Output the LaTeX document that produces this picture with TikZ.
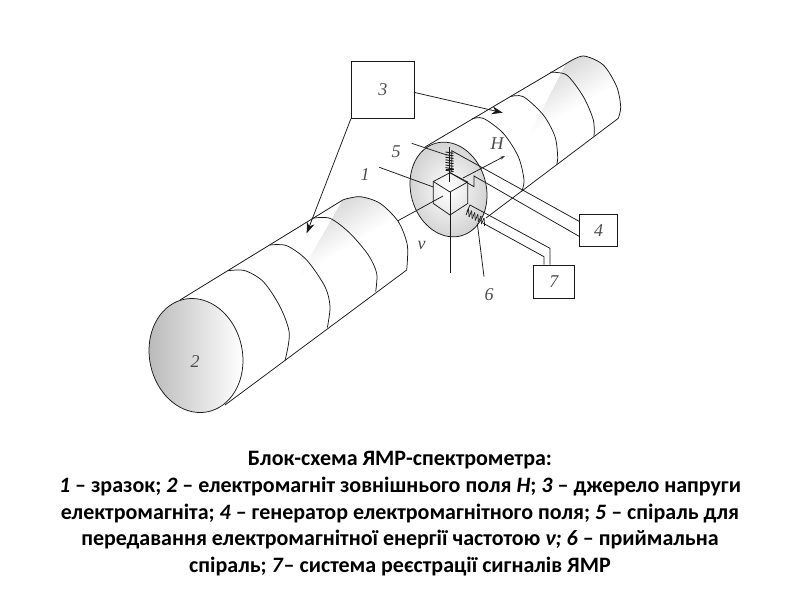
\documentclass[tikz,border=0pt]{standalone}
\usepackage{fontspec}
\setmainfont{Liberation Serif}
\newfontfamily\capfont{Carlito}
\usetikzlibrary{arrows.meta}
\tikzset{
  ln/.style={line width=0.75pt,black!90},
  boxn/.style={draw=black!90,line width=0.75pt,inner sep=0pt,font=\itshape\fontsize{18}{18}\selectfont,text=black!70},
  lbl/.style={inner sep=0pt,font=\itshape\fontsize{18}{18}\selectfont,text=black!70},
  bigarrow/.style={ln,-{Stealth[length=11pt,width=8pt]}},
  smallarrow/.style={ln,-{Stealth[length=5pt,width=3pt]}},
  zf/.style={shift={(130,180)},xscale=1/3,yscale=1/3},
  zb/.style={shift={(340,40)},xscale=1/3,yscale=1/3}
}
\begin{document}
\begin{tikzpicture}[x=1pt,y=-1pt]
\useasboundingbox (0,0) rectangle (800,600);
% back cylinder shading
\begin{scope}
\clip (425,147) -- (566.7,63.3) plot[smooth] coordinates {(566.7,63.3)(583.3,56)(603.3,65)(616.7,86.7)(620.7,106.7)(618.3,118.3)} -- (486,218) -- cycle;
\foreach \w in {44,42,...,2}{
  \pgfmathsetmacro\k{15*(1-\w/44)}
  \pgfmathsetmacro\dx{.509*\w}
  \pgfmathsetmacro\dy{.861*\w}
  \pgfmathsetmacro\ax{420+\dx}
  \pgfmathsetmacro\ay{150+\dy}
  \pgfmathsetmacro\bx{680+\dx}
  \pgfmathsetmacro\by{-3.7+\dy}
  \fill[black!\k] (420,150) -- (680,-3.7) -- (\bx,\by) -- (\ax,\ay) -- cycle;
}
\end{scope}
% front cylinder shading
\begin{scope}
\clip (180,300) -- (343.3,199.7) plot[smooth] coordinates {(343.3,199.7)(360,196.7)(380,203.3)(398.3,221.7)(407.3,245)(406.7,270)} -- (225,405) -- cycle;
\foreach \w in {44,42,...,2}{
  \pgfmathsetmacro\k{15*(1-\w/44)}
  \pgfmathsetmacro\dx{.523*\w}
  \pgfmathsetmacro\dy{.852*\w}
  \pgfmathsetmacro\ax{170+\dx}
  \pgfmathsetmacro\ay{306+\dy}
  \pgfmathsetmacro\bx{480+\dx}
  \pgfmathsetmacro\by{115.7+\dy}
  \fill[black!\k] (170,306) -- (480,115.7) -- (\bx,\by) -- (\ax,\ay) -- cycle;
}
\end{scope}
% back cylinder outlines
\draw[ln] (425,147) -- (566.7,63.3);
\draw[ln] (618.3,118.3) -- (486,218);
\draw[ln] plot[smooth] coordinates {(566.7,63.3)(583.3,56)(603.3,65)(616.7,86.7)(620.7,106.7)(618.3,118.3)};
\begin{scope}[zb]
\draw[ln] plot[smooth] coordinates {(395,237)(430,235)(490,280)(535,350)(552,420)(545,455)};
\draw[ln] plot[smooth] coordinates {(510,170)(550,170)(610,225)(645,290)(653,350)(650,375)};
\draw[ln] plot[smooth] coordinates {(630,97)(680,105)(730,170)(760,240)(762,290)};
\end{scope}
% front cylinder outlines
\draw[ln] (180,300) -- (343.3,199.7);
\draw[ln] (406.7,270) -- (225,405);
\draw[ln] plot[smooth] coordinates {(343.3,199.7)(360,196.7)(380,203.3)(398.3,221.7)(407.3,245)(406.7,270)};
\begin{scope}[zf]
\draw[ln] plot[smooth] coordinates {(295,272)(345,272)(400,305)(450,380)(478,460)(465,542)};
\draw[ln] plot[smooth] coordinates {(420,195)(470,197)(530,240)(585,320)(600,380)(592,443)};
\draw[ln] plot[smooth] coordinates {(545,115)(600,115)(660,160)(715,225)(740,280)(737,335)};
\end{scope}
% front face
\shade[left color=black!27,right color=white,draw=black!90,line width=0.75pt]
  plot[domain=0:360,samples=73,variable=\t] ({196+47*cos(\t)},{355.5+5*cos(\t)+56.8*sin(\t)}) -- cycle;
% central disc
\shade[inner color=white,outer color=black!17,draw=black!90,line width=0.75pt]
  plot[domain=0:360,samples=73,variable=\t] ({448.5+38.5*cos(\t)},{189.5+5.8*cos(\t)+47*sin(\t)}) -- cycle;
% boxes
\node[boxn,minimum width=63pt,minimum height=56.6pt] (b3) at (382.8,90) {3};
\node[boxn,minimum width=37.5pt,minimum height=32.5pt] (b4) at (598.5,230.5) {4};
\node[boxn,minimum width=41pt,minimum height=33.3pt] (b7) at (553.8,281.7) {7};
% labels
\node[lbl] (l2) at (195,362) {2};
\node[lbl] (l5) at (396,152) {5};
\node[lbl] (l1) at (365,175) {1};
\node[lbl] (lH) at (497,144) {H};
\node[lbl] (lv) at (421.5,245) {ν};
\node[lbl] (l6) at (489,295) {6};
% named free ends
\coordinate (t3f) at (306.7,233.3);
\coordinate (t3b) at (502.7,112.7);
\coordinate (s3b) at (413.8,92.3);
\coordinate (a0) at (398,220.7);
\coordinate (a1) at (443,196);
\coordinate (h0) at (463,178);
\coordinate (h1) at (505,156);
\coordinate (cc) at (450,192);
\coordinate (vb) at (450,273);
\coordinate (c5t) at (449.3,146.7);
\coordinate (c5b) at (449.3,182);
\coordinate (d41) at (451.7,150.7);
\coordinate (d41b) at (451.7,172.3);
\coordinate (d42a) at (449.3,172.3);
\coordinate (d42b) at (474,186.7);
\coordinate (d42c) at (474,176);
\coordinate (p41) at (579.8,221.7);
\coordinate (p42) at (579.8,236.7);
\coordinate (c0) at (467,211.7);
\coordinate (c1) at (470,205);
\coordinate (c2) at (550,248.3);
\coordinate (c3) at (483.3,223.3);
\coordinate (c4) at (544,256.7);
% arrows from box 3
\draw[bigarrow] (s3b) -- (t3b);
\draw[bigarrow] (b3.south west) -- (t3f);
% cube
\draw[ln] (450,172.7) -- (467.7,182) -- (467.7,203.5) -- (450,215) -- (433.3,203.5) -- (433.3,181.5) -- cycle;
\draw[ln] (433.3,181.5) -- (cc) -- (467.7,182);
% axis lines
\draw[ln] (a0) -- (a1);
\draw[smallarrow] (h0) -- (h1);
\draw[ln] (cc) -- (vb);
\draw[ln] (c5t) -- (c5b);
% coil 5
\foreach \i in {0,...,7}{
  \draw[ln,line width=0.9pt] ({445.5},{152+2.6*\i}) -- ({453.5},{153.3+2.6*\i});
}
\draw[ln,line width=1pt] (445.5,169) -- (453.5,169);
% lines to box 4
\draw[ln] (d41b) -- (d41) -- (p41);
\draw[ln] (d42a) -- (d42b) -- (d42c) -- (p42);
% coil 6
\foreach \i in {0,...,5}{
  \draw[ln] ({467+3.1*\i+1.5},{211.5+1.8*\i-2.6}) -- ({467+3.1*\i-1},{211.5+1.8*\i+3.5});
  \draw[ln] ({467+3.1*\i+1.5},{211.5+1.8*\i-2.6}) -- ({467+3.1*\i+3.1-1},{211.5+1.8*\i+1.8+3.5});
}
% lines to box 7
\draw[ln] (c0) -- (c1) -- (c2) -- (c2 |- b7.north);
\draw[ln] (c3) -- (c4) -- (c4 |- b7.north);
% leaders
\draw[ln] (411.7,143.3) -- (446.7,155);
\draw[ln] (379.3,167.3) -- (433.3,187);
\draw[ln] (477.3,223.3) -- (484,276.7);
% caption
\node[inner sep=0pt,align=center,anchor=north,font=\capfont\bfseries\fontsize{22}{26.6}\selectfont] (cap) at (400,451.5) {%
Блок-схема ЯМР-спектрометра:\\
\textit{1} – зразок; \textit{2} – електромагніт зовнішнього поля \textit{H}; \textit{3} – джерело напруги\\
електромагніта; \textit{4} – генератор електромагнітного поля; \textit{5} – спіраль для\\
передавання електромагнітної енергії частотою \textit{ν; 6} – приймальна\\
спіраль; \textit{7}– система реєстрації сигналів ЯМР};
\end{tikzpicture}
\end{document}
